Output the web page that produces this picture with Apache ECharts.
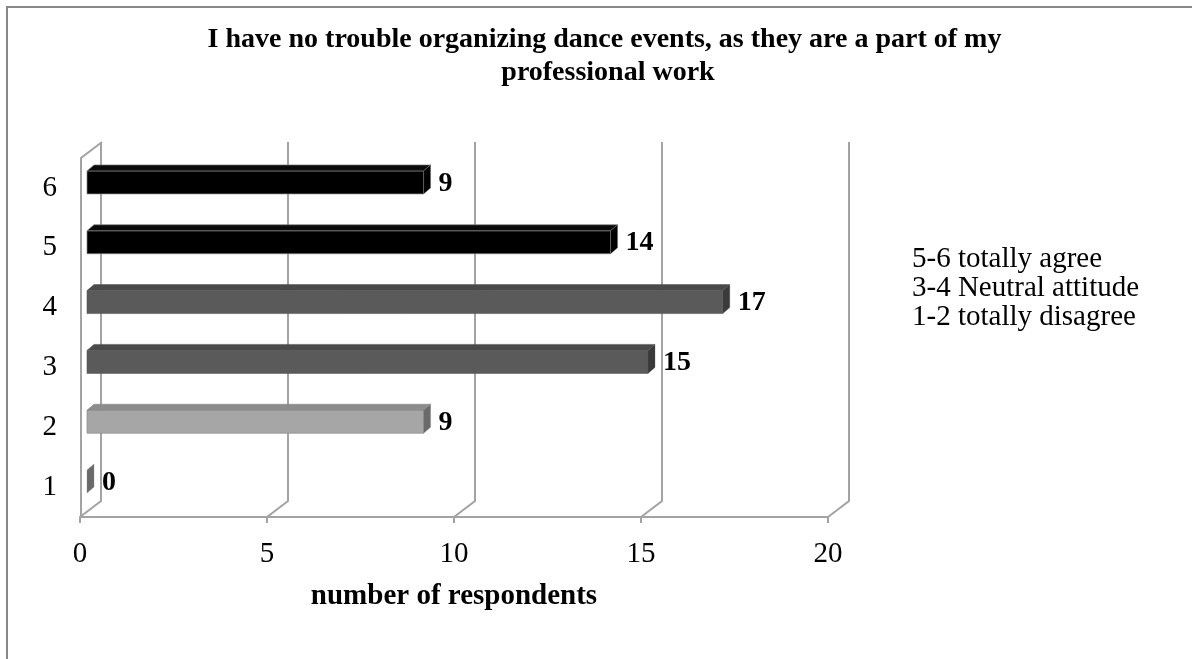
<!DOCTYPE html>
<html>
<head>
<meta charset="utf-8">
<script src="https://cdn.jsdelivr.net/npm/echarts@6/dist/echarts.min.js"></script>
<style>
  html, body { margin: 0; padding: 0; background: #fff; }
  #chart { width: 1192px; height: 659px; }
</style>
</head>
<body>
<div id="chart"></div>
<script>
// ---- data ----
const titleText = 'I have no trouble organizing dance events, as they are a part of my \nprofessional work';
const categories = ['1', '2', '3', '4', '5', '6'];
const respondents = [0, 9, 15, 17, 14, 9];
const groupNames = ['1-2 totally disagree', '3-4 Neutral attitude', '5-6 totally agree'];
const groupOfCategory = [0, 0, 1, 1, 2, 2];
const legendOrder = ['5-6 totally agree', '3-4 Neutral attitude', '1-2 totally disagree'];
const xMin = 0, xMax = 20, xStep = 5;
const xAxisName = 'number of respondents';

// ---- styles ----
const FONT = '"Liberation Serif", "Times New Roman", serif';
const groupColors = [
  { front: '#a6a6a6', top: '#8c8c8c', side: '#6a6a6a', stroke: 'rgba(140,140,140,0.7)' },
  { front: '#5a5a5a', top: '#4a4a4a', side: '#3a3a3a', stroke: 'rgba(90,90,90,0.6)' },
  { front: '#000000', top: '#0a0a0a', side: '#000000', stroke: 'rgba(130,130,130,0.7)' }
];
const WALL = '#a3a3a3';
const DEPTH_X = 21, DEPTH_Y = -16;

function barRenderer(col) {
  return function (params, api) {
    const v = api.value(0), c = api.value(1);
    const p0 = api.coord([0, c]);
    const p1 = api.coord([v, c]);
    const ox = 7, oy = -5.5, h = 23, dx = 7, dy = -6;
    const x0 = p0[0] + ox, x1 = p1[0] + ox;
    const yc = p0[1] + oy;
    const yt = yc - h / 2, yb = yc + h / 2;
    const children = [];
    if (x1 > x0) {
      children.push({ type: 'polygon', shape: { points: [[x0, yt], [x1, yt], [x1, yb], [x0, yb]] },
        style: { fill: col.front, stroke: col.stroke, lineWidth: 1 } });
      children.push({ type: 'polygon', shape: { points: [[x0, yt], [x1, yt], [x1 + dx, yt + dy], [x0 + dx, yt + dy]] },
        style: { fill: col.top, stroke: col.stroke, lineWidth: 1 } });
    }
    children.push({ type: 'polygon', shape: { points: [[x1, yt], [x1 + dx, yt + dy], [x1 + dx, yb + dy], [x1, yb]] },
      style: { fill: col.side, stroke: col.stroke, lineWidth: 0.5 } });
    children.push({ type: 'text', style: { text: String(v), x: x1 + dx + 8, y: yc + 1,
      font: 'bold 28px ' + FONT, fill: '#000', verticalAlign: 'middle', align: 'left' } });
    return { type: 'group', children: children };
  };
}

function wallRenderer(params, api) {
  const cs = params.coordSys;
  const bottom = cs.y + cs.height;
  const children = [];
  for (let t = xMin; t <= xMax; t += xStep) {
    const x = api.coord([t, 0])[0];
    children.push({ type: 'polyline', shape: { points: [[x, bottom], [x + DEPTH_X, bottom + DEPTH_Y], [x + DEPTH_X, cs.y + DEPTH_Y]] },
      style: { stroke: WALL, lineWidth: 2, fill: null } });
  }
  const xl = api.coord([xMin, 0])[0] + 1;
  children.push({ type: 'polyline', shape: { points: [[xl, bottom], [xl, cs.y], [xl + DEPTH_X, cs.y + DEPTH_Y]] },
    style: { stroke: WALL, lineWidth: 2, fill: null } });
  return { type: 'group', children: children };
}

const series = [{
  type: 'custom', name: 'wall', silent: true, z: 1,
  renderItem: wallRenderer, data: [[0, 0]]
}];
groupNames.forEach(function (name, g) {
  const data = [];
  respondents.forEach(function (v, i) { if (groupOfCategory[i] === g) data.push([v, i]); });
  series.push({ type: 'custom', name: name, z: 3, renderItem: barRenderer(groupColors[g]), data: data,
    itemStyle: { color: groupColors[g].front } });
});

const chart = echarts.init(document.getElementById('chart'));
chart.setOption({
  backgroundColor: '#fff',
  animation: false,
  title: {
    text: titleText, left: 603, top: 18, textAlign: 'center',
    textStyle: { fontFamily: FONT, fontSize: 28, fontWeight: 'bold', color: '#000', lineHeight: 33 }
  },
  legend: {
    data: legendOrder, orient: 'vertical', left: 902, top: 240,
    itemWidth: 0, itemHeight: 0, itemGap: 0, selectedMode: false,
    icon: 'rect',
    textStyle: { fontFamily: FONT, fontSize: 29, color: '#000', lineHeight: 28.5 }
  },
  grid: { left: 80, right: 364, top: 158, bottom: 142 },
  xAxis: {
    type: 'value', min: xMin, max: xMax, interval: xStep,
    name: xAxisName, nameLocation: 'middle', nameGap: 65,
    nameTextStyle: { fontFamily: FONT, fontSize: 29, fontWeight: 'bold', color: '#000' },
    axisLine: { show: true, lineStyle: { color: WALL, width: 2 } },
    axisTick: { show: true, length: 6, lineStyle: { color: WALL, width: 2 } },
    axisLabel: { margin: 23, fontFamily: FONT, fontSize: 29, color: '#000' },
    splitLine: { show: false }
  },
  yAxis: {
    type: 'category', data: categories,
    axisLine: { show: false }, axisTick: { show: false },
    axisLabel: { margin: 23, fontFamily: FONT, fontSize: 29, color: '#000' },
    splitLine: { show: false }
  },
  graphic: [{
    type: 'rect', silent: true, z: 100,
    shape: { x: 7, y: 7, width: 1400, height: 1000 },
    style: { fill: null, stroke: '#888', lineWidth: 2 }
  }],
  series: series
});
</script>
</body>
</html>
